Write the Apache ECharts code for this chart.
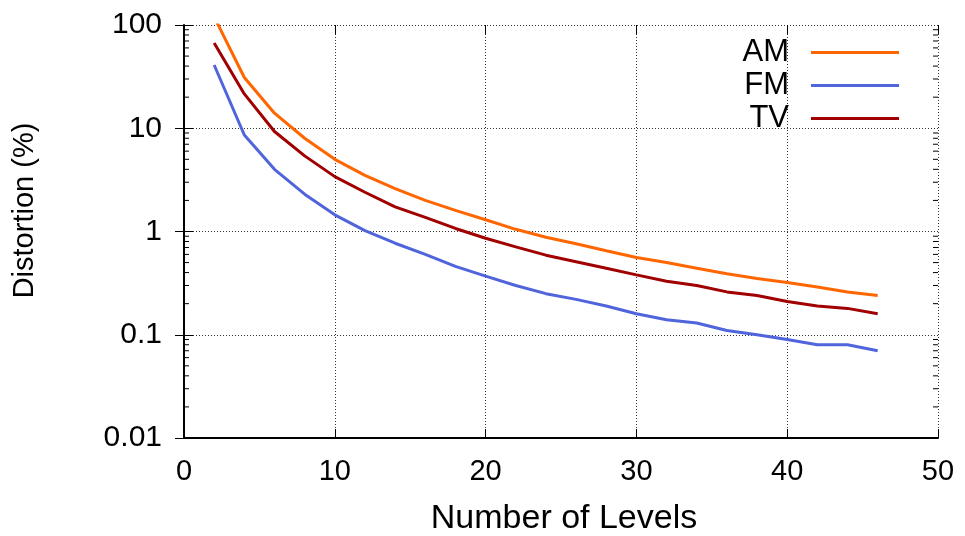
<!DOCTYPE html>
<html>
<head>
<meta charset="utf-8">
<script src="https://cdn.jsdelivr.net/npm/echarts@6/dist/echarts.min.js"></script>
<style>html,body{margin:0;padding:0;background:#fff}#c{width:965px;height:536px}</style>
</head>
<body>
<div id="c"></div>
<script>
const levels = [2,4,6,8,10,12,14,16,18,20,22,24,26,28,30,32,34,36,38,40,42,44,46];
const amValues = [120,31,14,8.0,5.0,3.5,2.6,2.0,1.6,1.3,1.05,0.88,0.76,0.65,0.56,0.50,0.44,0.39,0.35,0.32,0.29,0.26,0.24];
const fmValues = [41,8.6,4.0,2.3,1.45,1.02,0.77,0.60,0.46,0.37,0.30,0.25,0.22,0.19,0.16,0.14,0.13,0.11,0.10,0.09,0.08,0.08,0.07];
const tvValues = [67,21.5,9.3,5.4,3.4,2.4,1.73,1.37,1.07,0.86,0.71,0.59,0.51,0.44,0.38,0.33,0.30,0.26,0.24,0.21,0.19,0.18,0.16];
const seriesNames = ['AM','FM','TV'];
const yTickValues = [0.01,0.1,1,10,100];
const yTickLabels = ['0.01','0.1','1','10','100'];
const xTickLabels = ['0','10','20','30','40','50'];
const decades = [0.01,0.1,1,10];
const minorMultipliers = [2,3,4,5,6,7,8,9];

const colors = {AM:'#ff6600', FM:'#5064dc', TV:'#a00000'};
const FONT = 'Liberation Sans';
const pairs = (vals) => levels.map((x,i)=>[x, vals[i]]);
const minorTicks = [];
decades.forEach(d => minorMultipliers.forEach(m => minorTicks.push([0, d*m])));

function yLabel(v){
  for (let i=0;i<yTickValues.length;i++){ if (Math.abs(Math.log10(v)-Math.log10(yTickValues[i]))<1e-6) return yTickLabels[i]; }
  return '';
}
const dotted = {type:[1,2], color:'#333', width:1};

const chart = echarts.init(document.getElementById('c'));
chart.setOption({
  animation:false,
  backgroundColor:'#fff',
  grid:{left:184, right:27, top:25, bottom:98, containLabel:false, outerBoundsMode:'none'},
  legend:{
    data:seriesNames, orient:'vertical', right:61, top:31, align:'right',
    icon:'rect', itemWidth:88, itemHeight:3, itemGap:0,
    textStyle:{fontFamily:FONT, fontSize:31, color:'#000', lineHeight:33, padding:[0,17,0,0]}
  },
  xAxis:[{
    type:'value', min:0, max:50, interval:10, position:'bottom',
    name:'Number of Levels', nameLocation:'middle', nameGap:64,
    nameTextStyle:{fontFamily:FONT, fontSize:34, color:'#000', padding:[0,0,0,6]},
    axisLine:{show:true, lineStyle:{color:'#000', width:2}},
    axisTick:{show:true, inside:true, length:9, lineStyle:{color:'#000', width:1}},
    axisLabel:{fontFamily:FONT, fontSize:29, color:'#000', margin:19,
      formatter:(v)=>xTickLabels[Math.round(v/10)] ?? ''},
    splitLine:{show:true, lineStyle:dotted}
  },{
    type:'value', min:0, max:50, interval:10, position:'top',
    axisLine:{show:false}, axisLabel:{show:false}, splitLine:{show:false},
    axisTick:{show:true, inside:true, length:9, lineStyle:{color:'#000', width:1}}
  }],
  yAxis:[{
    type:'log', logBase:10, min:0.01, max:100, position:'left',
    name:'Distortion (%)', nameLocation:'middle', nameGap:145,
    nameTextStyle:{fontFamily:FONT, fontSize:29, color:'#000', padding:[0,0,0,42]},
    axisLine:{show:true, lineStyle:{color:'#000', width:2}},
    axisTick:{show:true, inside:true, length:9, lineStyle:{color:'#000', width:1}},
    axisLabel:{fontFamily:FONT, fontSize:30, color:'#000', margin:22, formatter:yLabel},
    splitLine:{show:true, lineStyle:dotted}
  },{
    type:'log', logBase:10, min:0.01, max:100, position:'right',
    axisLine:{show:false}, axisLabel:{show:false}, splitLine:{show:false},
    axisTick:{show:true, inside:true, length:9, lineStyle:{color:'#000', width:1}}
  }],
  series:[
    {name:'AM', type:'line', data:pairs(amValues), showSymbol:false, symbol:'none', clip:true,
     lineStyle:{color:colors.AM, width:3}, itemStyle:{color:colors.AM}, z:3},
    {name:'FM', type:'line', data:pairs(fmValues), showSymbol:false, symbol:'none', clip:true,
     lineStyle:{color:colors.FM, width:3}, itemStyle:{color:colors.FM}, z:3},
    {name:'TV', type:'line', data:pairs(tvValues), showSymbol:false, symbol:'none', clip:true,
     lineStyle:{color:colors.TV, width:3}, itemStyle:{color:colors.TV}, z:3},
    {name:'minorTicks', type:'custom', data:minorTicks, silent:true, clip:false, z:2,
     renderItem:(params, api)=>{
       const v = api.value(1);
       const pL = api.coord([0, v]);
       const pR = api.coord([50, v]);
       return {type:'group', children:[
         {type:'line', shape:{x1:pL[0], y1:pL[1], x2:pL[0]+5, y2:pL[1]}, style:{stroke:'#000', lineWidth:1}},
         {type:'line', shape:{x1:pR[0], y1:pR[1], x2:pR[0]-5, y2:pR[1]}, style:{stroke:'#000', lineWidth:1}}
       ]};
     }}
  ]
});
</script>
</body>
</html>
